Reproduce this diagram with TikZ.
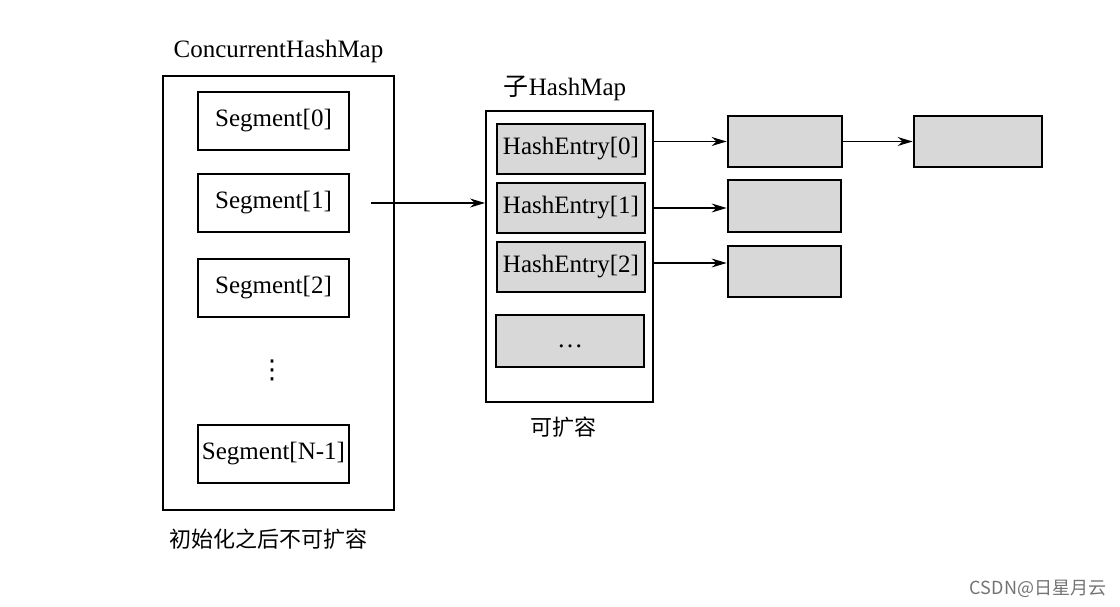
\documentclass[tikz,border=0pt]{standalone}
\usepackage{fontspec}
\setmainfont{Liberation Serif}
\newfontfamily\cjk{Noto Sans CJK SC}
\newfontfamily\dejavu{DejaVu Sans}
\usetikzlibrary{arrows.meta}
\definecolor{boxgray}{HTML}{D8D8D8}
\begin{document}
\begin{tikzpicture}[x=1pt,y=-1pt,
  lbl/.style={font=\fontsize{25}{30}\selectfont, inner sep=0pt},
  cn/.style={font=\cjk\fontsize{22}{26}\selectfont, inner sep=0pt},
  outerbox/.style={draw, line width=2pt, inner sep=0pt},
  segbox/.style={draw, line width=2.4pt, inner sep=0pt, minimum width=151pt, minimum height=58pt, font=\fontsize{25}{30}\selectfont},
  graybox/.style={draw, line width=2.8pt, fill=boxgray, inner sep=0pt, font=\fontsize{25}{30}\selectfont},
  arr/.style={line width=1.2pt, -{Stealth[length=15pt, width=9pt, inset=5pt]}}
]
\useasboundingbox (0,0) rectangle (1120,607);
% ConcurrentHashMap
\node[outerbox, minimum width=231pt, minimum height=434pt] (chm) at (278.5,293) {};
\node[lbl] (chmt) at (278.5,51) {ConcurrentHashMap};
\node[segbox] (seg0) at (273.5,121) {Segment[0]};
\node[segbox] (seg1) at (273.5,203) {Segment[1]};
\node[segbox] (seg2) at (273.5,288) {Segment[2]};
\node[inner sep=0pt, font=\dejavu\fontsize{26}{30}\selectfont] (vd) at (272,370) {⋮};
\node[segbox] (segN) at (273.5,454) {Segment[N-1]};
\node[cn] (chmc) at (268,539) {初始化之后不可扩容};
% sub HashMap
\node[outerbox, minimum width=167pt, minimum height=291pt] (hm) at (569.5,256.5) {};
\node[lbl] (hmt) at (565,88) {{\cjk 子}HashMap};
\node[graybox, minimum width=148pt, minimum height=50pt] (he0) at (571,149) {HashEntry[0]};
\node[graybox, minimum width=148pt, minimum height=50pt] (he1) at (571,208) {HashEntry[1]};
\node[graybox, minimum width=148pt, minimum height=50pt] (he2) at (571,267) {HashEntry[2]};
\node[graybox, minimum width=148pt, minimum height=52pt, text height=12pt, text depth=0pt, font=\fontsize{26}{30}\selectfont] (hed) at (570,341) {…};
\node[cn] (hmc) at (563,427) {可扩容};
% entries
\node[graybox, minimum width=114pt, minimum height=51pt] (bA) at (785,141.5) {};
\node[graybox, minimum width=128pt, minimum height=51pt] (bB) at (978,141.5) {};
\node[graybox, minimum width=113pt, minimum height=52pt] (bC) at (784.5,206) {};
\node[graybox, minimum width=113pt, minimum height=51pt] (bD) at (784.5,271.5) {};
% arrows
\draw[arr] ([xshift=21pt]seg1.east) -- (seg1.east -| hm.west);
\draw[arr] (bA.west -| hm.east) -- (bA.west);
\draw[arr] ([yshift=-2pt]bC.west -| hm.east) -- ([yshift=-2pt]bC.west);
\draw[arr] ([yshift=8.5pt]bD.west -| hm.east) -- ([yshift=8.5pt]bD.west);
\draw[arr] (bA.east) -- (bB.west);
% watermark
\node[font=\cjk\fontsize{18}{22}\selectfont, text=black!55, inner sep=0pt] (wm) at (1038,589) {CSDN@日星月云};
\end{tikzpicture}
\end{document}
